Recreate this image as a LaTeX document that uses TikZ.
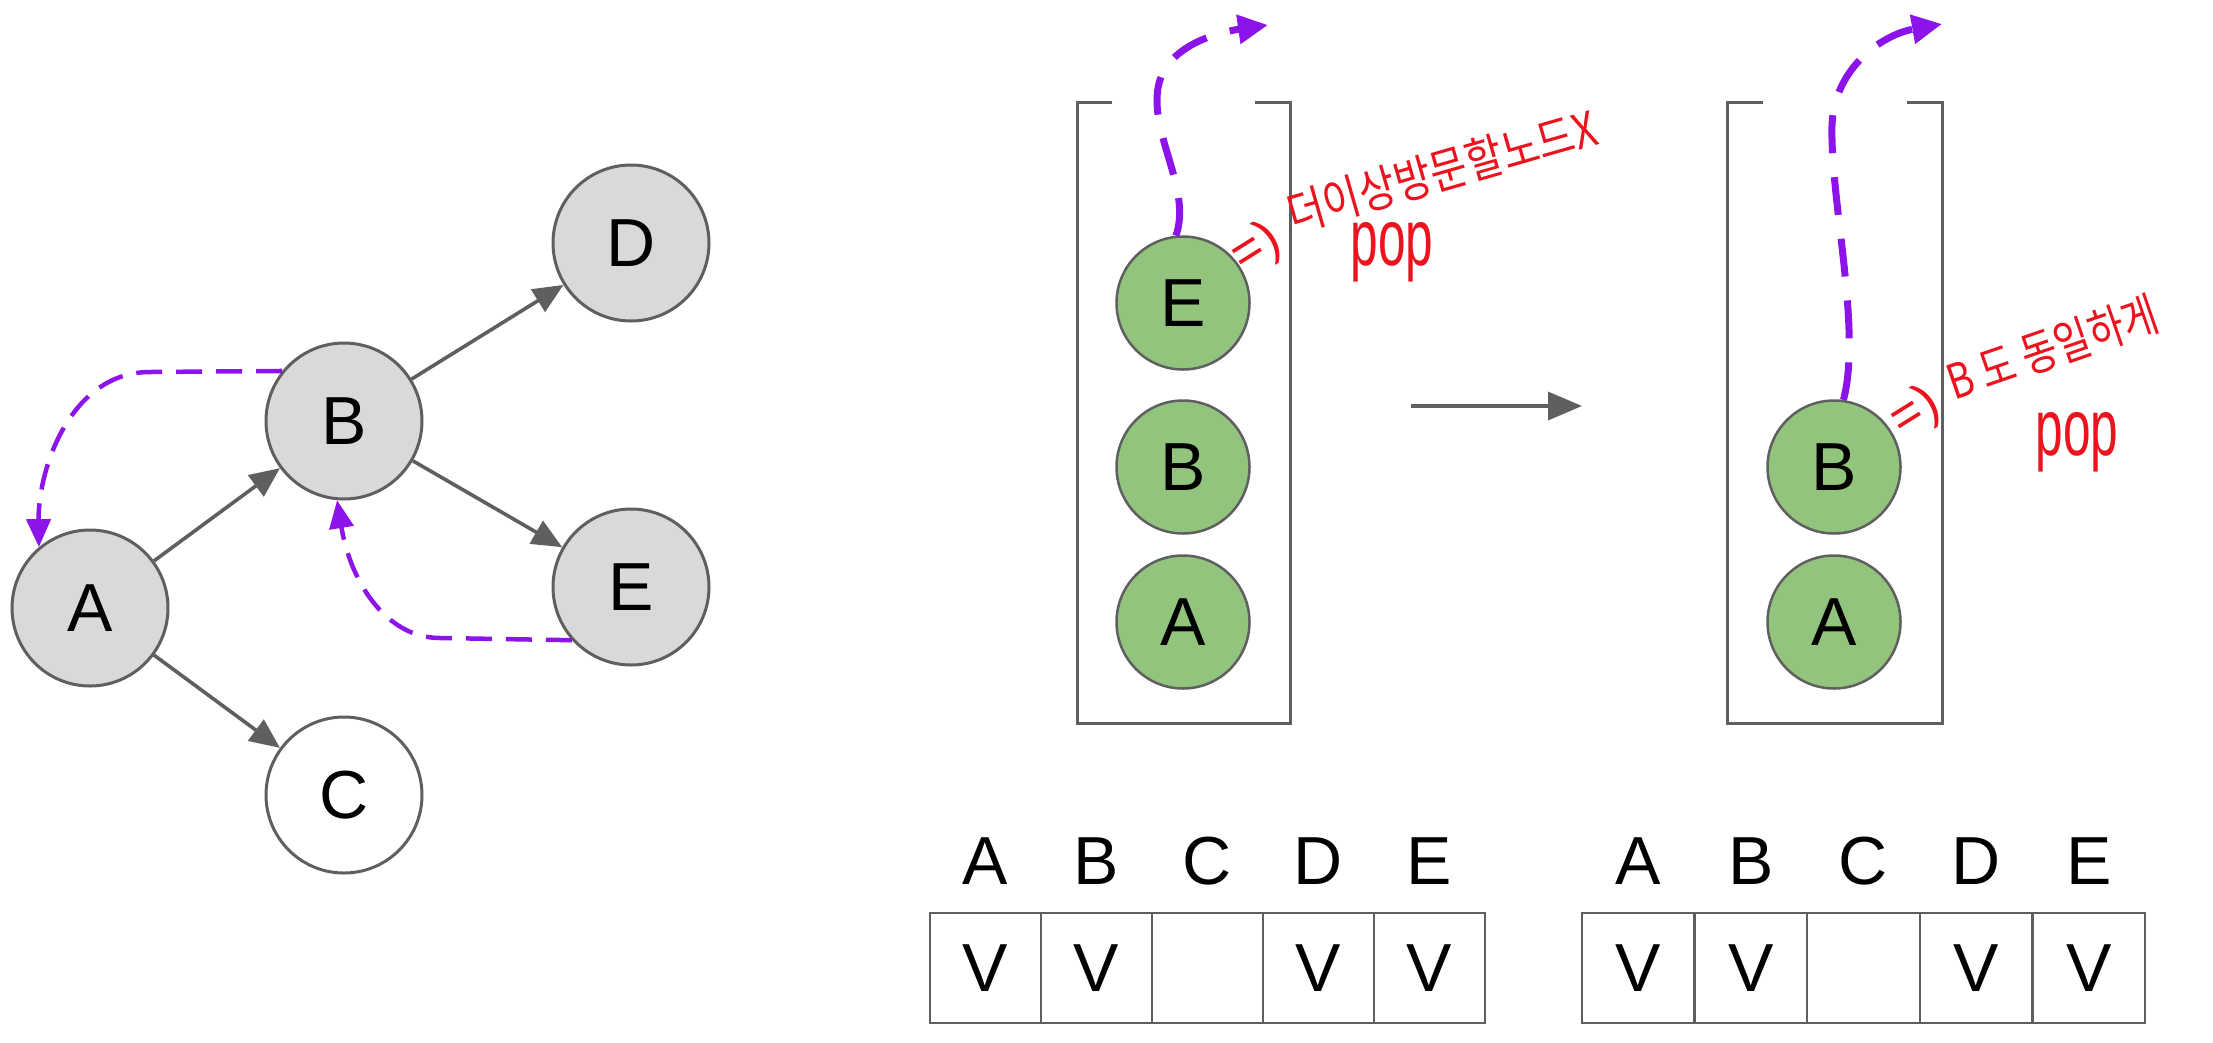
\documentclass[tikz,border=0pt]{standalone}
\usepackage{fontspec}
\setmainfont{Liberation Sans}
\newfontfamily\krfont{Noto Sans CJK KR}
\usetikzlibrary{arrows.meta}
\definecolor{grayline}{RGB}{95,95,95}
\definecolor{nodefill}{RGB}{217,217,217}
\definecolor{greenfill}{RGB}{147,196,125}
\definecolor{violetink}{RGB}{140,20,235}
\definecolor{redink}{RGB}{235,20,30}
\begin{document}
\begin{tikzpicture}[x=1pt,y=-1pt,
  gnode/.style={circle, draw=grayline, line width=3pt, fill=nodefill, minimum size=156pt, inner sep=0pt, font=\fontsize{68}{70}\selectfont},
  snode/.style={circle, draw=grayline, line width=2.5pt, fill=greenfill, minimum size=133pt, inner sep=0pt, font=\fontsize{68}{70}\selectfont},
  gedge/.style={draw=grayline, line width=3.6pt, -{Triangle[length=30pt,width=26pt]}},
  backline/.style={draw=violetink, line width=4.5pt, dash pattern=on 26pt off 14pt, -{Triangle[length=28pt,width=24pt]}},
  popline/.style={draw=violetink, line width=7pt, dash pattern=on 38pt off 24pt, -{Triangle[length=30pt,width=28pt]}},
  bracket/.style={draw=grayline, line width=3pt},
  cell/.style={draw=grayline, line width=2.5pt, minimum width=111pt, minimum height=110pt, inner sep=0pt, font=\fontsize{68}{70}\selectfont},
  rcell/.style={cell, minimum width=112.6pt},
  head/.style={font=\fontsize{68}{70}\selectfont, inner sep=0pt},
  note/.style={text=redink, font=\krfont\fontsize{48}{50}\selectfont, inner sep=0pt},
  arrnote/.style={text=redink, font=\fontsize{52}{54}\selectfont, inner sep=0pt},
  popnote/.style={text=redink, font=\fontsize{80}{84}\selectfont, inner sep=0pt}
]
\useasboundingbox (0,0) rectangle (2213,1042);

% ---- graph ----
\node[gnode] (A) at (90,608) {A};
\node[gnode] (B) at (344,421) {B};
\node[gnode] (D) at (631,243) {D};
\node[gnode] (E) at (631,587) {E};
\node[gnode, fill=white] (C) at (344,795) {C};
\draw[gedge] (A) -- (B);
\draw[gedge] (B) -- (D);
\draw[gedge] (B) -- (E);
\draw[gedge] (A) -- (C);
\draw[backline] (B.141) -- (150,372) .. controls (70,372) and (38,470) .. (A.130);
\draw[backline] (E.222) -- (440,638) .. controls (385,638) and (350,580) .. (B.265);

% ---- left stack ----
\draw[bracket] (1112,102) -- (1077,102) -- (1077,723) -- (1290,723) -- (1290,102) -- (1255,102);
\node[snode] (sE) at (1183,303) {E};
\node[snode] (sB) at (1183,467) {B};
\node[snode] (sA) at (1183,622) {A};
\coordinate (outL) at (1268,25);
\draw[popline] (sE.96) .. controls (1192,190) and (1150,135) .. (1158,88) .. controls (1165,45) and (1220,32) .. (outL);
\node[arrnote, rotate=32] (arrL) at (1257,249) {=)};
\node[note, rotate=16, anchor=south west] (txtL) at (1294,236) {\scalebox{0.84}[1]{더이상방문할노드X}};
\node[popnote] (popL) at (1392,252) {\scalebox{0.62}[1]{pop}};

% ---- middle arrow ----
\coordinate (mA) at (1411,406);
\coordinate (mB) at (1582,406);
\draw[gedge, -{Triangle[length=34pt,width=28pt]}] (mA) -- (mB);

% ---- right stack ----
\draw[bracket] (1763,102) -- (1727,102) -- (1727,723) -- (1942,723) -- (1942,102) -- (1907,102);
\node[snode] (tB) at (1834,467) {B};
\node[snode] (tA) at (1834,622) {A};
\coordinate (outR) at (1942,24);
\draw[popline] (tB.82) .. controls (1862,330) and (1830,200) .. (1832,125) .. controls (1834,70) and (1880,35) .. (outR);
\node[arrnote, rotate=32] (arrR) at (1916,413) {=)};
\node[note, rotate=19, anchor=south west] (txtR) at (1956,404) {\scalebox{0.8}[1]{B 도 동일하게}};
\node[popnote] (popR) at (2077,442) {\scalebox{0.62}[1]{pop}};

% ---- left table ----
\foreach \i/\l/\v in {1/A/V,2/B/V,3/C/,4/D/V,5/E/V}{
  \node[cell] (L\i) at ({930+111*(\i-0.5)},968) {\v};
  \node[head] (LH\i) at ({930+111*(\i-0.5)},861) {\l};
}
% ---- right table ----
\foreach \i/\l/\v in {1/A/V,2/B/V,3/C/,4/D/V,5/E/V}{
  \node[rcell] (R\i) at ({1582+112.6*(\i-0.5)},968) {\v};
  \node[head] (RH\i) at ({1582+112.6*(\i-0.5)},861) {\l};
}
\end{tikzpicture}
\end{document}
